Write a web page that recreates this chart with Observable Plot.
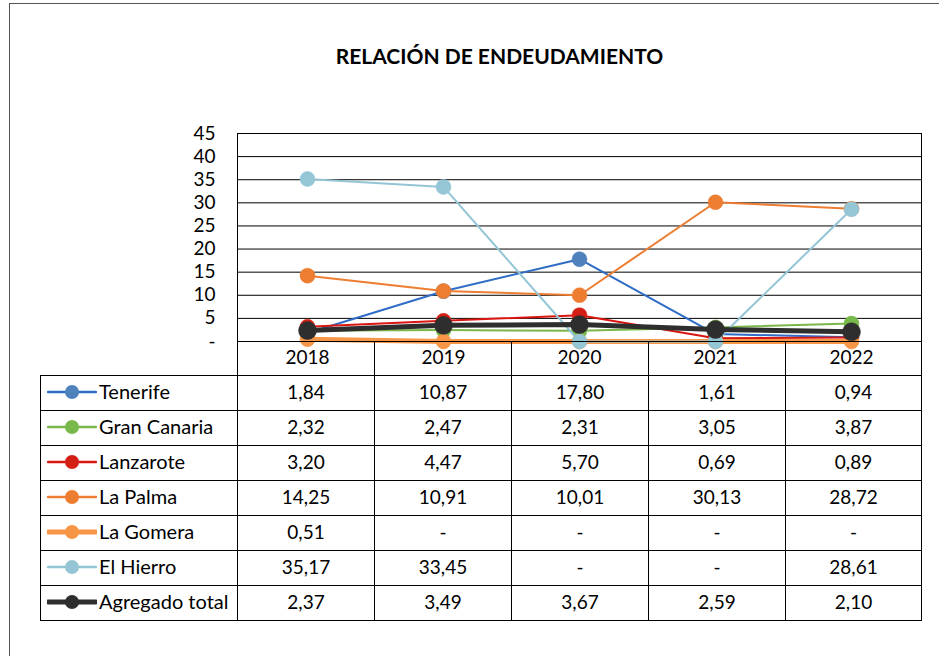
<!DOCTYPE html>
<html><head><meta charset="utf-8">
<script src="https://cdn.jsdelivr.net/npm/d3@7"></script>
<script src="https://cdn.jsdelivr.net/npm/@observablehq/plot@0.6"></script>
<style>
body{margin:0;width:939px;height:656px;overflow:hidden;background:#fff;font-family:Lato,"Liberation Sans",sans-serif;}
#wrap{position:relative;width:939px;height:656px;overflow:hidden;}
#frame{position:absolute;left:9px;top:3px;width:1000px;height:1000px;border:1px solid #555;}
#title{position:absolute;left:9px;width:981px;top:44px;line-height:24px;text-align:center;font-weight:bold;font-size:21px;color:#000;}
#chart{position:absolute;left:0;top:0;}
#tbl{position:absolute;left:40px;top:341px;border-collapse:collapse;table-layout:fixed;width:881px;font-size:19px;color:#000;}
#tbl td{border:1px solid #000;padding:0;text-align:center;background:transparent;}
#tbl tr.head td{height:33px;}
#tbl tr.head td.blank{border-top:none;border-left:none;}
#tbl tr.row td{height:30px;padding-bottom:4px;}
#tbl tr.row td.lab{text-align:left;padding:0 0 0 6px;height:34px;white-space:nowrap;font-size:20px;}
#tbl td.lab div{display:flex;align-items:center;height:34px;}
#tbl td.lab svg{margin-right:2px;flex:none;position:relative;top:-1px;}
#tbl td.lab span{line-height:24px;position:relative;top:-2px;}
</style></head>
<body>
<div id="wrap">
  <div id="frame"></div>
  <div id="title">RELACIÓN DE ENDEUDAMIENTO</div>
  <div id="chart"></div>
  <table id="tbl"></table>
</div>
<script>
const years = ["2018","2019","2020","2021","2022"];
const seriesNames = ["Tenerife","Gran Canaria","Lanzarote","La Palma","La Gomera","El Hierro","Agregado total"];
const tenerife     = [1.84, 10.87, 17.80, 1.61, 0.94];
const granCanaria  = [2.32, 2.47, 2.31, 3.05, 3.87];
const lanzarote    = [3.20, 4.47, 5.70, 0.69, 0.89];
const laPalma      = [14.25, 10.91, 10.01, 30.13, 28.72];
const laGomera     = [0.51, 0, 0, 0, 0];
const elHierro     = [35.17, 33.45, 0, 0, 28.61];
const agregado     = [2.37, 3.49, 3.67, 2.59, 2.10];
const yTicks = [0, 5, 10, 15, 20, 25, 30, 35, 40, 45];

const seriesValues = [tenerife, granCanaria, lanzarote, laPalma, laGomera, elHierro, agregado];
const lineColors   = ["#2f6cc6", "#7ab648", "#d9160f", "#ED7D31", "#F79646", "#93C5D5", "#2e2e2e"];
const dotColors    = ["#4F81BD", "#77b94a", "#d42014", "#ED7D31", "#F79646", "#95c6d6", "#2e2e2e"];
const lineWidths   = [2, 2, 2, 2, 5, 2, 5];
const dotRadii     = [7.5, 7.5, 7.5, 7.5, 7.5, 7.5, 9];

const rows = seriesNames.flatMap((s, i) => years.map((y, j) => ({serie: s, year: y, value: seriesValues[i][j]})));

const marks = [
  Plot.ruleY(yTicks, {stroke: "#000", strokeWidth: 1}),
  Plot.frame({stroke: "#000"})
];
seriesNames.forEach((s, i) => {
  const d = rows.filter(r => r.serie === s);
  marks.push(Plot.line(d, {x: "year", y: "value", stroke: lineColors[i], strokeWidth: lineWidths[i], curve: "linear"}));
  marks.push(Plot.dot(d, {x: "year", y: "value", r: dotRadii[i], fill: dotColors[i], stroke: dotColors[i], strokeWidth: 0.5}));
});

const chart = Plot.plot({
  width: 939, height: 375,
  marginLeft: 237, marginRight: 18, marginTop: 133, marginBottom: 34,
  x: {type: "point", domain: years, padding: 0.5, tickSize: 0, tickPadding: 9, label: null},
  y: {domain: [0, 45], ticks: yTicks, tickFormat: d => d === 0 ? "-" : String(d), tickSize: 0, tickPadding: 22, label: null},
  style: {fontFamily: "Lato, 'Liberation Sans', sans-serif", fontSize: "19px", color: "#000", background: "transparent", overflow: "visible"},
  marks
});
document.getElementById("chart").appendChild(chart);

// data table
const fmt = v => v === 0 ? "-" : v.toFixed(2).replace(".", ",");
const tbl = document.getElementById("tbl");
const cg = document.createElement("colgroup");
[197, 137, 137, 137, 137, 136].forEach(w => { const c = document.createElement("col"); c.style.width = w + "px"; cg.appendChild(c); });
tbl.appendChild(cg);
const head = document.createElement("tr"); head.className = "head";
const b = document.createElement("td"); b.className = "blank"; head.appendChild(b);
years.forEach(() => head.appendChild(document.createElement("td")));
tbl.appendChild(head);
seriesNames.forEach((s, i) => {
  const tr = document.createElement("tr"); tr.className = "row";
  const lab = document.createElement("td"); lab.className = "lab";
  const box = document.createElement("div");
  const sw = d3.create("svg").attr("width", 50).attr("height", 20);
  sw.append("line").attr("x1", 1).attr("x2", 49).attr("y1", 10).attr("y2", 10)
    .attr("stroke", lineColors[i]).attr("stroke-width", lineWidths[i] === 5 ? 5 : 2.5).attr("stroke-linecap", "round");
  sw.append("circle").attr("cx", 25).attr("cy", 10).attr("r", 7).attr("fill", dotColors[i]);
  box.appendChild(sw.node());
  const sp = document.createElement("span"); sp.textContent = s; box.appendChild(sp);
  lab.appendChild(box);
  tr.appendChild(lab);
  seriesValues[i].forEach(v => { const td = document.createElement("td"); td.textContent = fmt(v); tr.appendChild(td); });
  tbl.appendChild(tr);
});
</script>
</body></html>
